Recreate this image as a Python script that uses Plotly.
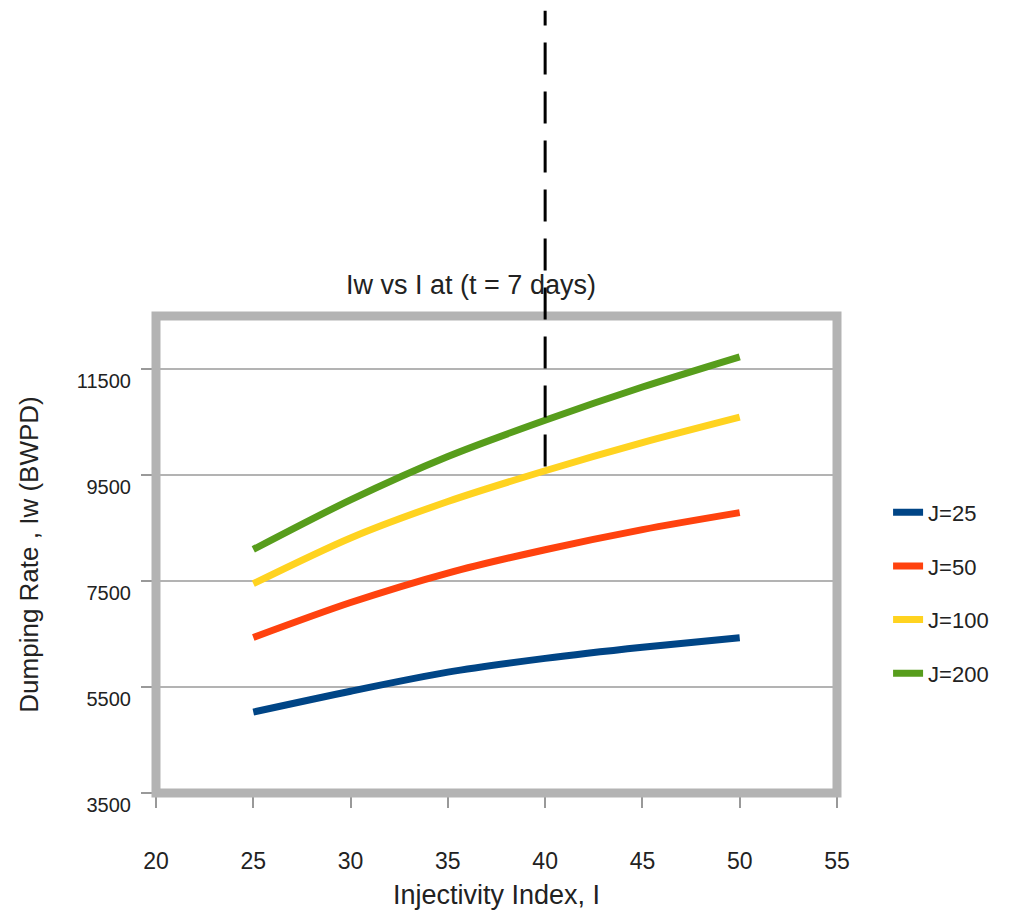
import plotly.graph_objects as go

# ---- data ----
injectivity = [25, 30, 35, 40, 45, 50]
j25 = [5027, 5420, 5780, 6040, 6250, 6430]
j50 = [6435, 7094, 7650, 8090, 8470, 8790]
j100 = [7450, 8313, 9000, 9580, 10110, 10590]
j200 = [8095, 9031, 9850, 10533, 11160, 11730]
series_names = ["J=25", "J=50", "J=100", "J=200"]
series_values = [j25, j50, j100, j200]
colors = ["#004586", "#ff420e", "#ffd320", "#579d1c"]

x_range = [20, 55]
y_range = [3500, 12500]
marker_x = 40           # dashed reference line at I = 40
marker_y_bottom = 9660  # where the dashed line stops (near J=100 curve)

FONT = "Liberation Sans, Arial, sans-serif"
TXT = "#222222"

fig = go.Figure()
for name, vals, col in zip(series_names, series_values, colors):
    fig.add_trace(go.Scatter(
        x=injectivity, y=vals, mode="lines", name=name,
        legendgroup=name,
        line=dict(color=col, width=7, shape="spline", smoothing=0.8),
    ))

def to_paper_y(v):
    return (v - y_range[0]) / (y_range[1] - y_range[0])

shapes = [
    dict(type="rect", xref="paper", yref="paper", x0=0, x1=1, y0=0, y1=1,
         line=dict(color="#b3b3b3", width=9), layer="above"),
    dict(type="line", xref="x", yref="paper",
         x0=marker_x, x1=marker_x, y0=to_paper_y(marker_y_bottom), y1=1.64,
         line=dict(color="black", width=3, dash="32px,17px"), layer="above"),
]

fig.update_layout(
    width=1024, height=921,
    margin=dict(l=156, r=187, t=316, b=128),
    paper_bgcolor="white", plot_bgcolor="white",
    font=dict(family=FONT, color=TXT),
    title=dict(text="Iw vs I at (t = 7 days)", x=471/1024, xanchor="center",
               y=1 - 285/921, yanchor="middle", yref="container",
               font=dict(size=27, color=TXT, family=FONT)),
    xaxis=dict(range=x_range, tick0=20, dtick=5, showgrid=False, zeroline=False,
               showline=False, ticks="outside", ticklen=14, tickcolor="#999999",
               tickwidth=1.5, ticklabelstandoff=33,
               tickfont=dict(size=23, color=TXT, family=FONT),
               title=dict(text="Injectivity Index, I", standoff=12,
                          font=dict(size=27, color=TXT, family=FONT))),
    yaxis=dict(range=y_range, tick0=3500, dtick=2000, tickformat="d",
               showgrid=True, gridcolor="#b3b3b3", gridwidth=1.5,
               zeroline=False, showline=False,
               ticks="outside", ticklen=14, tickcolor="#999999", tickwidth=1.5,
               ticklabelstandoff=6, ticklabelshift=12,
               tickfont=dict(size=20, color=TXT, family=FONT),
               title=dict(text="Dumping Rate , Iw (BWPD)", standoff=30,
                          font=dict(size=26, color=TXT, family=FONT))),
    legend=dict(x=1.075, xanchor="left", y=0.632, yanchor="top",
                tracegroupgap=22, font=dict(size=22, color=TXT, family=FONT),
                bgcolor="rgba(0,0,0,0)"),
    shapes=shapes,
    showlegend=True,
)

fig.write_html("out.html")
